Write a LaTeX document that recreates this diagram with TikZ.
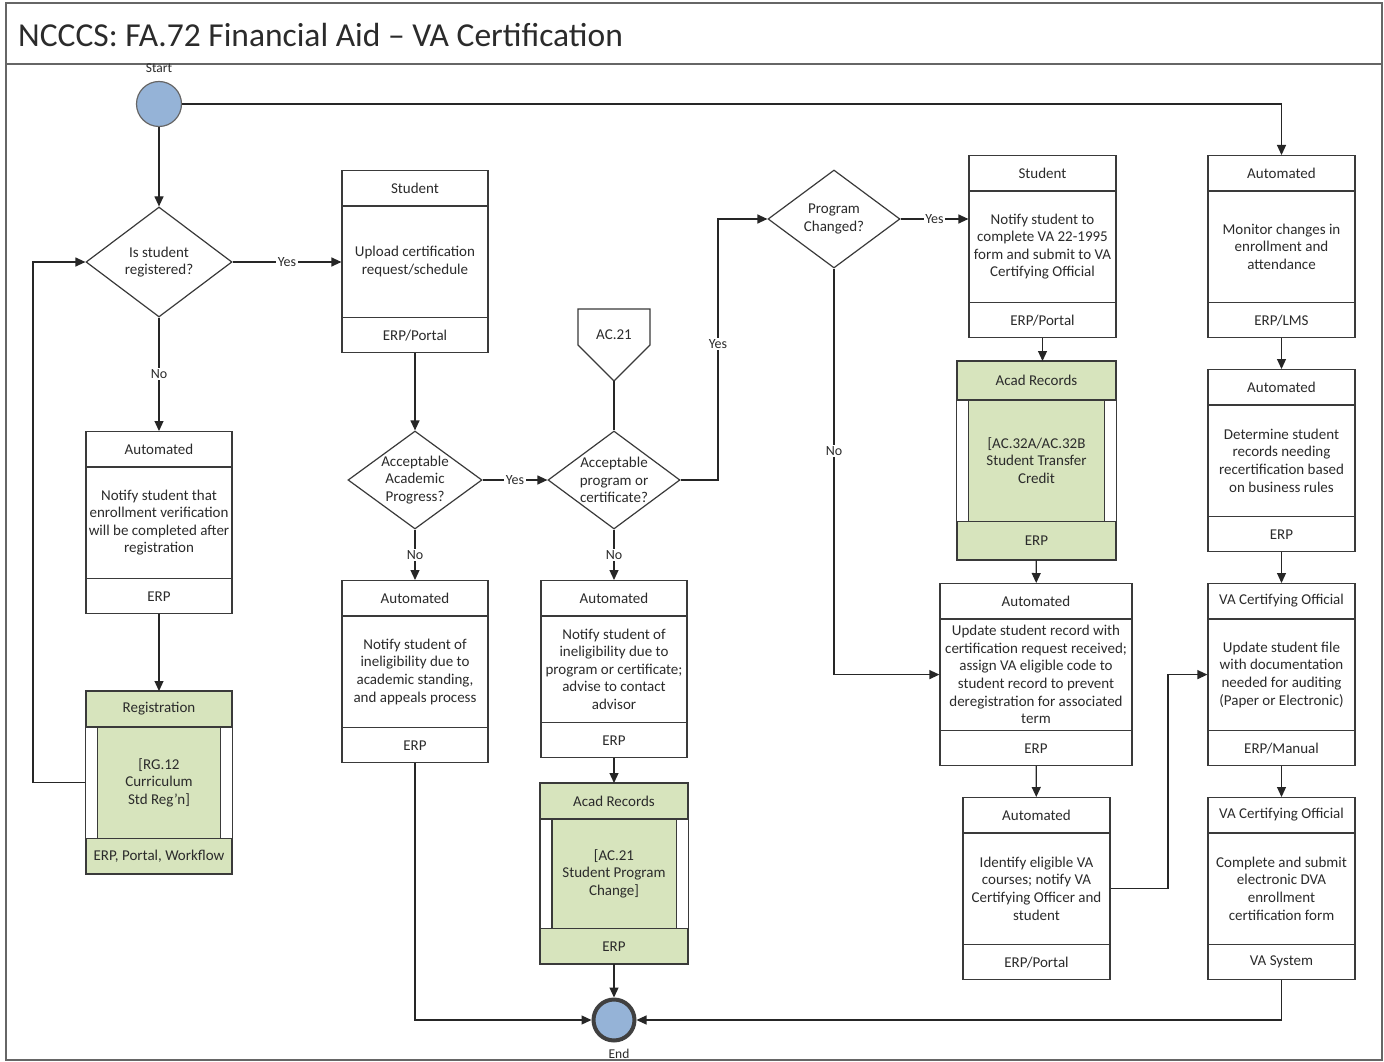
\documentclass[tikz,border=0pt]{standalone}
\usepackage{fontspec}
\setmainfont{Carlito}
\usetikzlibrary{arrows.meta,shapes.geometric}
\definecolor{subgreen}{HTML}{D7E4BD}
\definecolor{termblue}{HTML}{95B3D7}
\definecolor{ink}{HTML}{2B2B2B}
\definecolor{edge}{HTML}{3A3A3A}

% process box: [opts]{name}{top centre}{width}{height}{header height}{header}{body}{footer}
\newcommand\procbox[9][]{%
  \node[pframe,minimum width=#4pt,minimum height=#5pt,anchor=north,#1] (#2) at (#3) {};
  \draw[pline] ([yshift=-#6pt]#2.north west) -- ([yshift=-#6pt]#2.north east);
  \draw[pline] ([yshift=#6pt]#2.south west) -- ([yshift=#6pt]#2.south east);
  \node[txt] (#2-h) at ([yshift=-#6pt/2]#2.north) {#7};
  \node[txt] (#2-b) at (#2.center) {#8};
  \node[txt] (#2-f) at ([yshift=#6pt/2]#2.south) {#9};
}
% predefined sub-process: green box with side bars
\newcommand\subbox[9][]{%
  \node[pframe,fill=subgreen,minimum width=#4pt,minimum height=#5pt,anchor=north,#1] (#2) at (#3) {};
  \fill[white] ([yshift=-#6pt]#2.north west) rectangle ([xshift=12pt,yshift=#6pt]#2.south west);
  \fill[white] ([yshift=-#6pt]#2.north east) rectangle ([xshift=-12pt,yshift=#6pt]#2.south east);
  \draw[pline] (#2.north west) rectangle (#2.south east);
  \draw[pline] ([yshift=-#6pt]#2.north west) -- ([yshift=-#6pt]#2.north east);
  \draw[pline] ([yshift=#6pt]#2.south west) -- ([yshift=#6pt]#2.south east);
  \draw[pline] ([xshift=12pt,yshift=-#6pt]#2.north west) -- ([xshift=12pt,yshift=#6pt]#2.south west);
  \draw[pline] ([xshift=-12pt,yshift=-#6pt]#2.north east) -- ([xshift=-12pt,yshift=#6pt]#2.south east);
  \node[txt] (#2-h) at ([yshift=-#6pt/2]#2.north) {#7};
  \node[txt] (#2-b) at (#2.center) {#8};
  \node[txt] (#2-f) at ([yshift=#6pt/2]#2.south) {#9};
}

\tikzset{
  pframe/.style={draw=edge,line width=1.2pt,rectangle,inner sep=0pt,fill=white},
  pline/.style={draw=edge,line width=1.2pt},
  txt/.style={text=ink,align=center,inner sep=0pt,font=\fontsize{15}{17.6}\selectfont},
  decision/.style={diamond,draw=edge,line width=1.2pt,fill=white,inner sep=0pt},
  conn/.style={draw=black!85,line width=1.2pt},
  arr/.style={conn,-{Triangle[length=10pt,width=9pt]}},
  lab/.style={fill=white,text=ink,inner sep=1.5pt,font=\fontsize{14}{16}\selectfont},
  smalllab/.style={text=ink,inner sep=0pt,font=\fontsize{13.5}{15}\selectfont},
}

\begin{document}
\begin{tikzpicture}[x=1pt,y=-1pt]
\useasboundingbox (0,0) rectangle (1384,1062);
\fill[white] (0,0) rectangle (1384,1062);

% frame and title bar
\draw[line width=1.2pt,draw=black!60] (6,3) rectangle (1382,1060);
\draw[line width=1.2pt,draw=black!60] (6,64) -- (1382,64);
\node[anchor=west,text=ink,inner sep=0pt,font=\fontsize{33.5}{38}\selectfont] (title) at (18,35) {NCCCS: FA.72 Financial Aid -- VA Certification};

% terminators
\node[circle,draw=black!60,line width=1.2pt,fill=termblue,minimum size=45pt,inner sep=0pt] (start) at (159,104) {};
\node[smalllab] (startlbl) at (159,68) {Start};
\node[circle,draw=black!75,line width=4pt,fill=termblue,minimum size=41pt,inner sep=0pt] (end) at (614,1020) {};
\node[smalllab] (endlbl) at (619,1054) {End};

% decisions
\node[decision,minimum width=146pt,minimum height=110pt] (d1) at (159,262) {};
\node[txt] (d1t) at (d1) {Is student\\registered?};
\node[decision,minimum width=134pt,minimum height=98pt] (d2) at (415,480) {};
\node[txt] (d2t) at (d2) {Acceptable\\Academic\\Progress?};
\node[decision,minimum width=132pt,minimum height=98pt] (d3) at (614,480) {};
\node[txt] (d3t) at (d3) {Acceptable\\program or\\certificate?};
\node[decision,minimum width=132pt,minimum height=98pt] (d4) at (834,219) {};
\node[txt] (d4t) at (d4) {Program\\Changed?};

% off-page reference
\draw[pline,fill=white] (578,309) -- (650,309) -- (650,345) -- (614,381) -- (578,345) -- cycle;
\node[txt] (ac21) at (614,335) {AC.21};
\coordinate (ac21tip) at (614,381);

% column 1
\procbox{b1}{159,431}{146}{182}{36}{Automated}{Notify student that\\enrollment verification\\will be completed after\\registration}{ERP}
\subbox{reg}{159,691}{146}{182}{36}{Registration}{[RG.12\\Curriculum\\Std Reg'n]}{ERP, Portal, Workflow}

% column 2
\procbox{st1}{415,170}{146}{182}{36}{Student}{Upload certification\\request/schedule}{ERP/Portal}
\procbox{auto2}{415,580}{146}{182}{36}{Automated}{Notify student of\\ineligibility due to\\academic standing,\\and appeals process}{ERP}

% column 3
\procbox{auto3}{614,580}{146}{177}{36}{Automated}{Notify student of\\ineligibility due to\\program or certificate;\\advise to contact\\advisor}{ERP}
\subbox{acad1}{614,783}{147}{180}{36}{Acad Records}{[AC.21\\Student Program\\Change]}{ERP}

% column 4
\procbox{st2}{1042.5,155}{147}{182}{36}{Student}{Notify student to\\complete VA 22-1995\\form and submit to VA\\Certifying Official}{ERP/Portal}
\subbox{acad2}{1036.5,361}{159}{198}{39}{Acad Records}{[AC.32A/AC.32B\\Student Transfer\\Credit}{ERP}
\procbox{auto4}{1036,583}{192}{182}{36}{Automated}{Update student record with\\certification request received;\\assign VA eligible code to\\student record to prevent\\deregistration for associated\\term}{ERP}
\procbox{auto5}{1036.5,797}{147}{182}{36}{Automated}{Identify eligible VA\\courses; notify VA\\Certifying Officer and\\student}{ERP/Portal}

% column 5
\procbox{mon}{1281.5,155}{147}{182}{36}{Automated}{Monitor changes in\\enrollment and\\attendance}{ERP/LMS}
\procbox{det}{1281.5,369}{147}{182}{36}{Automated}{Determine student\\records needing\\recertification based\\on business rules}{ERP}
\procbox{va1}{1281.5,583}{147}{182}{36}{VA Certifying Official}{Update student file\\with documentation\\needed for auditing\\(Paper or Electronic)}{ERP/Manual}
\procbox{va2}{1281.5,797}{147}{182}{36}{VA Certifying Official}{Complete and submit\\electronic DVA\\enrollment\\certification form}{VA System}

% routing columns
\coordinate (loopx) at (33,0);
\coordinate (yesx) at (718,0);
\coordinate (jx) at (1168,0);

% connectors
\draw[arr] (start) -- (d1);
\draw[arr] (start.east) -- (start.east -| mon.north) -- (mon.north);
\draw[arr] (d1.east) -- node[lab]{Yes} (d1.east -| st1.west);
\draw[arr] (d1) -- node[lab]{No} (b1);
\draw[arr] (b1) -- (reg);
\draw[arr] (reg.west) -- (reg.west -| loopx) |- (d1.west);
\draw[arr] (st1) -- (d2);
\draw[arr] (d2) -- node[lab]{Yes} (d3);
\draw[arr] (d2) -- node[lab]{No} (auto2);
\draw[arr] (d3) -- node[lab]{No} (auto3);
\draw[conn] (ac21tip) -- (d3.north);
\draw[arr] (d3.east) -- (d3.east -| yesx) -- node[lab,pos=0.52]{Yes} (yesx |- d4.west) -- (d4.west);
\draw[arr] (auto3) -- (acad1);
\draw[arr] (acad1) -- (end);
\draw[arr] (auto2.south) |- (end.west);
\draw[arr] (va2.south) |- (end.east);
\draw[arr] (d4.east) -- node[lab]{Yes} (d4.east -| st2.west);
\draw[arr] (d4.south) -- node[lab,pos=0.45]{No} (d4.south |- auto4.west) -- (auto4.west);
\draw[arr] (st2.south) -- (st2.south |- acad2.north);
\draw[arr] (acad2) -- (auto4);
\draw[arr] (auto4) -- (auto5);
\draw[arr] (auto5.east) -- (auto5.east -| jx) |- (va1.west);
\draw[arr] (mon) -- (det);
\draw[arr] (det) -- (va1);
\draw[arr] (va1) -- (va2);
\end{tikzpicture}
\end{document}
